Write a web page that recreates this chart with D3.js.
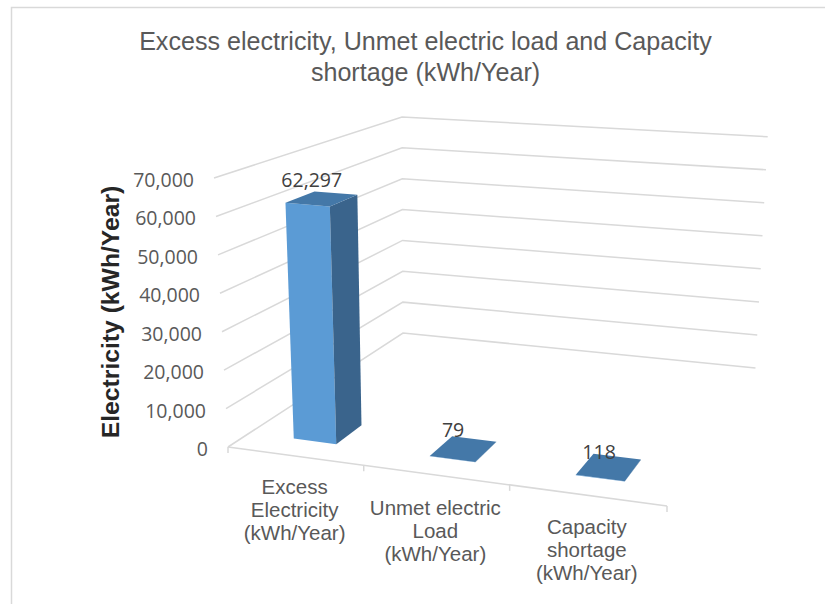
<!DOCTYPE html>
<html>
<head>
<meta charset="utf-8">
<script src="https://cdn.jsdelivr.net/npm/d3@7"></script>
<style>
html, body { margin: 0; padding: 0; background: #fff; }
svg { display: block; }
</style>
</head>
<body>
<svg id="chart" width="825" height="604"></svg>
<script>
// Chart data
const categories = [
  ["Excess", "Electricity", "(kWh/Year)"],
  ["Unmet electric", "Load", "(kWh/Year)"],
  ["Capacity", "shortage", "(kWh/Year)"]
];
const values = [62297, 79, 118];
const valueLabels = ["62,297", "79", "118"];
const tickValues = [0, 10000, 20000, 30000, 40000, 50000, 60000, 70000];
const titleLines = ["Excess electricity, Unmet electric load and Capacity", "shortage (kWh/Year)"];
const axisTitle = "Electricity (kWh/Year)";

const svg = d3.select("#chart");
const LABEL_FONT = "'Open Sans', sans-serif";
const TEXT_FONT = "'Liberation Sans', Arial, sans-serif";

// Maps the unit square onto a quadrilateral: a perspective plane of the 3-D box.
function planeProjector(p00, p10, p11, p01) {
  const dx1 = p10[0] - p11[0], dx2 = p01[0] - p11[0], sx = p00[0] - p10[0] + p11[0] - p01[0];
  const dy1 = p10[1] - p11[1], dy2 = p01[1] - p11[1], sy = p00[1] - p10[1] + p11[1] - p01[1];
  const det = dx1 * dy2 - dx2 * dy1;
  const g = (sx * dy2 - dx2 * sy) / det, h = (dx1 * sy - sx * dy1) / det;
  const a = p10[0] - p00[0] + g * p10[0], b = p01[0] - p00[0] + h * p01[0];
  const d = p10[1] - p00[1] + g * p10[1], e = p01[1] - p00[1] + h * p01[1];
  return (u, v) => {
    const w = g * u + h * v + 1;
    return [(a * u + b * v + p00[0]) / w, (d * u + e * v + p00[1]) / w];
  };
}

// Box floor and ceiling corners: front-left, front-right, back-right, back-left
const floorPlane = planeProjector([228, 447], [667, 506], [755.5, 368], [403, 333]);
const ceilPlane = planeProjector([214, 178], [700, 218], [767.7, 136.7], [402, 117]);

const yScale = d3.scaleLinear().domain([0, 70000]).range([0, 1]);
const xBand = d3.scaleBand().domain(d3.range(categories.length)).range([0, 1]).paddingInner(0.68).paddingOuter(0.34);
const depthRange = [0.10, 0.236];

// Screen position of a point in the box: across (u), into the depth (d), at a given value
function project(u, d, value) {
  const t = yScale(value), f = floorPlane(u, d), c = ceilPlane(u, d);
  return [f[0] + (c[0] - f[0]) * t, f[1] + (c[1] - f[1]) * t];
}
const polyline = d3.line();
const face = pts => polyline(pts) + "Z";

// Gridlines run along the left wall and then the back wall
const gridLayer = svg.append("g").attr("fill", "none").attr("stroke", "#d9d9d9").attr("stroke-width", 1.5);
gridLayer.selectAll("path").data(tickValues).join("path")
  .attr("d", v => polyline([project(0, 0, v), project(0, 1, v), project(1, 1, v)]));

// Category axis along the front floor edge, with its tick marks
const floorAxis = svg.append("g").attr("fill", "none").attr("stroke", "#d9d9d9").attr("stroke-width", 1.5);
floorAxis.append("path").attr("d", polyline([project(0, 0, 0), project(1, 0, 0)]));
floorAxis.selectAll("line").data(d3.range(categories.length + 1)).join("line")
  .each(function (i) {
    const p = project(i / categories.length, 0, 0);
    d3.select(this).attr("x1", p[0]).attr("y1", p[1]).attr("x2", p[0]).attr("y2", p[1] + 6);
  });

// Bars: front, side and top faces
const barLayer = svg.append("g");
values.forEach((value, i) => {
  const u0 = xBand(i), u1 = u0 + xBand.bandwidth();
  const [d0, d1] = depthRange;
  const g = barLayer.append("g");
  g.append("path").attr("fill", "#5b9bd5").attr("d", face([project(u0, d0, 0), project(u1, d0, 0), project(u1, d0, value), project(u0, d0, value)]));
  g.append("path").attr("fill", "#3a648c").attr("d", face([project(u1, d0, 0), project(u1, d1, 0), project(u1, d1, value), project(u1, d0, value)]));
  g.append("path").attr("fill", "#4478a8").attr("d", face([project(u0, d0, value), project(u1, d0, value), project(u1, d1, value), project(u0, d1, value)]));
});

// Data labels sit just above each bar's top face
const labelOffsets = [[-24, -6], [-21, -2], [-18, 2]];
svg.append("g").selectAll("text").data(values).join("text")
  .attr("font-family", LABEL_FONT).attr("font-size", 19.5).attr("fill", "#404040").attr("text-anchor", "middle")
  .attr("x", (v, i) => project(xBand(i) + xBand.bandwidth() / 2, depthRange[1], v)[0] + labelOffsets[i][0])
  .attr("y", (v, i) => project(xBand(i) + xBand.bandwidth() / 2, depthRange[1], v)[1] + labelOffsets[i][1])
  .text((v, i) => valueLabels[i]);

// Value tick labels beside the left wall's front edge
svg.append("g").selectAll("text").data(tickValues).join("text")
  .attr("font-family", LABEL_FONT).attr("font-size", 19.5).attr("fill", "#595959").attr("text-anchor", "end")
  .attr("x", v => project(0, 0, v)[0] - 20)
  .attr("y", v => project(0, 0, v)[1] + 9)
  .text(d3.format(","));

// Category labels beneath the front edge
const catOffsets = [38, 40, 39];
const catLabels = svg.append("g").attr("font-family", TEXT_FONT).attr("font-size", 20.5).attr("fill", "#595959").attr("text-anchor", "middle");
categories.forEach((lines, i) => {
  const p = project((i + 0.5) / categories.length, 0, 0);
  const t = catLabels.append("text").attr("x", p[0]).attr("y", p[1] + catOffsets[i]);
  lines.forEach((line, k) => t.append("tspan").attr("x", p[0]).attr("dy", k ? 23 : 0).text(line));
});

// Chart title
const title = svg.append("text").attr("font-family", TEXT_FONT).attr("font-size", 25.1).attr("fill", "#595959").attr("text-anchor", "middle");
titleLines.forEach((line, k) => title.append("tspan").attr("x", 425.5).attr("y", 50 + k * 31).text(line));

// Rotated value-axis title
svg.append("text").attr("font-family", TEXT_FONT).attr("font-size", 24.7).attr("font-weight", "bold").attr("fill", "#262626")
  .attr("text-anchor", "middle").attr("transform", "translate(119,312) rotate(-90)").text(axisTitle);

// Chart frame
svg.append("path").attr("fill", "none").attr("stroke", "#d9d9d9").attr("stroke-width", 1.5)
  .attr("d", "M11.5,604V7.5H825");
</script>
</body>
</html>
